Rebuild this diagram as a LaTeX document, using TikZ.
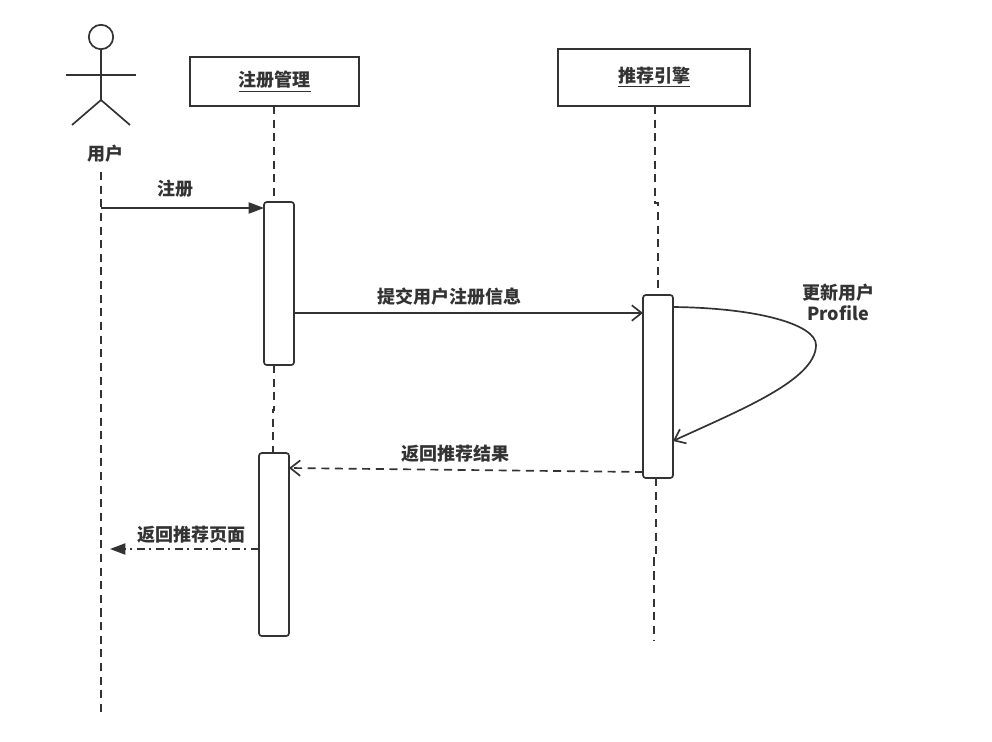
\documentclass[tikz,border=0pt]{standalone}
\usepackage{fontspec}
\setmainfont{Noto Sans CJK SC}
\usetikzlibrary{arrows.meta}

\begin{document}
\begin{tikzpicture}[
  x=0.025cm,
  y=-0.025cm,
  ink/.style={draw=black!80},
  label/.style={text=black!80, inner sep=0pt, align=center, font=\fontsize{12.8}{15}\selectfont\bfseries},
  objbox/.style={rectangle, ink, fill=white, line width=1.2pt, outer sep=0pt, label, anchor=north west},
  actbox/.style={rectangle, ink, fill=white, line width=1.2pt, outer sep=0pt, rounded corners=2pt, anchor=north west, minimum width=0.75cm},
  limb/.style={ink, line width=1.2pt},
  lifeline/.style={ink, line width=1.2pt, dash pattern=on 5.7pt off 4pt},
  solidmsg/.style={ink, line width=1.2pt, -{Triangle[length=11pt, width=8pt]}},
  openmsg/.style={ink, line width=1.2pt, -{Straight Barb[length=7pt, width=11pt]}},
  replymsg/.style={ink, line width=1.2pt, dash pattern=on 5.7pt off 4pt, -{Straight Barb[length=7pt, width=11pt]}},
  pagemsg/.style={ink, line width=1.2pt, dash pattern=on 6pt off 3pt on 1.5pt off 3pt, -{Triangle[length=11pt, width=8pt]}}
]
\useasboundingbox (0,0) rectangle (992,742);

%------------------------------------------------
% Actor
%------------------------------------------------
\node[circle, limb, fill=white, minimum size=0.61cm, inner sep=0pt] (head) at (101,37) {};
\coordinate (hip) at (101,100);
\coordinate (arm_l) at (66,75);
\coordinate (arm_r) at (136,75);
\coordinate (leg_l) at (72,125);
\coordinate (leg_r) at (130,125);
\node[label] (user) at (105,154) {用户};

\draw[limb] (head.south) -- (hip);
\draw[limb] (arm_l) -- (arm_r);
\draw[limb] (leg_l) -- (hip) -- (leg_r);

%------------------------------------------------
% Objects
%------------------------------------------------
\node[objbox, minimum width=4.225cm, minimum height=1.225cm] (reg) at (190,57) {\underline{注册管理}};
\node[objbox, minimum width=4.8cm, minimum height=1.425cm] (engine) at (558,49) {\underline{推荐引擎}};

%------------------------------------------------
% Lifelines
%------------------------------------------------
\coordinate (user_top) at (101,172);
\coordinate (user_end) at (101,714);
\draw[lifeline] (user_top) -- (user_end);

\coordinate (reg_jog) at (273,410);
\draw[lifeline] (reg.south -| 274,0) -- (274,202);
\draw[lifeline] (274,365) -- (274,410) -- (reg_jog) -- (273,453);

\draw[lifeline] (655,106) -- (655,203) -- (658,203) -- (658,295);
\draw[lifeline] (656,478) -- (656,558) -- (654,558) -- (654,640);

%------------------------------------------------
% Activations
%------------------------------------------------
\node[actbox, minimum height=4.075cm] (reg_act1) at (264,202) {};
\node[actbox, minimum height=4.575cm] (reg_act2) at (259,453) {};
\node[actbox, minimum height=4.575cm] (engine_act) at (643,295) {};

%------------------------------------------------
% Messages
%------------------------------------------------
\coordinate (user_msg) at (101,208);
\coordinate (reply_from) at (643,472);
\coordinate (reply_to) at (289,468);
\coordinate (page_to) at (110,549);
\coordinate (self_from) at (673,307);
\coordinate (self_to) at (673,441);

\draw[solidmsg] (user_msg) -- (reg_act1.west |- user_msg);
\draw[openmsg] (reg_act1.east |- 0,313) -- (engine_act.west |- 0,313);
\draw[replymsg] (reply_from) -- (reply_to);
\draw[pagemsg] (reg_act2.west |- page_to) -- (page_to);
\draw[openmsg] (self_from) .. controls (760,308) and (816,325) .. (816,345) .. controls (816,380) and (740,410) .. (self_to);

%------------------------------------------------
% Message labels
%------------------------------------------------
\node[label] (signup) at (175,189) {注册};
\node[label] (submit) at (449,297) {提交用户注册信息};
\node[label] (update) at (838,302) {更新用户\\Profile};
\node[label] (result) at (455,454) {返回推荐结果};
\node[label] (page) at (191,535) {返回推荐页面};

\end{tikzpicture}
\end{document}
